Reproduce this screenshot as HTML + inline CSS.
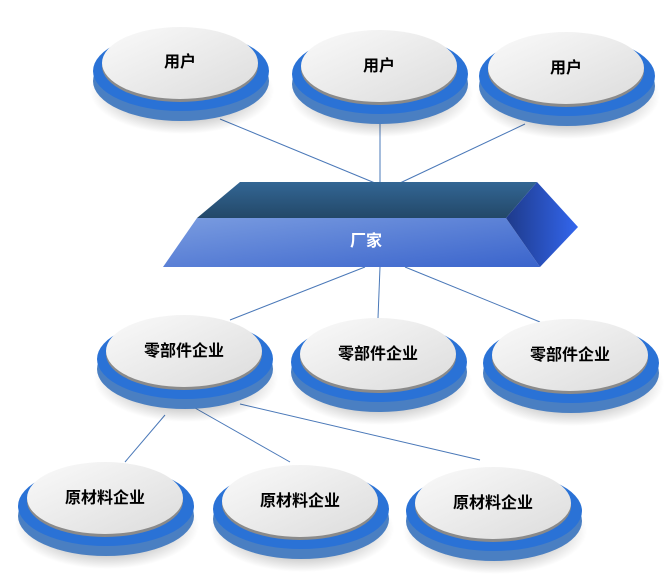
<!DOCTYPE html>
<html><head><meta charset="utf-8"><style>body{margin:0;background:#fff}svg{display:block}text{font-family:"Liberation Sans","Noto Sans CJK SC",sans-serif;font-weight:bold}</style></head><body>
<svg width="671" height="578" viewBox="0 0 671 578">
<defs>
<linearGradient id="top" x1="0" y1="0" x2="1" y2="1"><stop offset="0" stop-color="#fafafa"/><stop offset="1" stop-color="#dcdcdc"/></linearGradient>
<linearGradient id="fr" x1="0" y1="0" x2="1" y2="1"><stop offset="0" stop-color="#7a9ce0"/><stop offset="1" stop-color="#3a64cc"/></linearGradient>
<linearGradient id="tf" x1="0" y1="0" x2="0" y2="1"><stop offset="0" stop-color="#336694"/><stop offset="1" stop-color="#234868"/></linearGradient>
<linearGradient id="rf" x1="0" y1="0" x2="1" y2="0"><stop offset="0" stop-color="#1e3a8a"/><stop offset="1" stop-color="#3366ee"/></linearGradient>
<radialGradient id="sh"><stop offset="0.7" stop-color="#000" stop-opacity="0.18"/><stop offset="1" stop-color="#000" stop-opacity="0"/></radialGradient>
<g id="disk">
<ellipse cx="2" cy="28" rx="92" ry="43" fill="url(#sh)"/>
<ellipse cx="1" cy="18" rx="88" ry="40" fill="#4a7fc2"/>
<ellipse cx="1" cy="8" rx="88" ry="40" fill="#2a72d6"/>
<ellipse cx="0" cy="3" rx="78" ry="36" fill="#8a8a8a"/>
<ellipse cx="0" cy="0" rx="78" ry="36" fill="url(#top)"/>
</g>
</defs>
<g stroke="#4a78b8" stroke-width="1">
<line x1="220" y1="119" x2="375" y2="183"/><line x1="380" y1="124" x2="380" y2="183"/><line x1="525" y1="124" x2="400" y2="183"/>
<line x1="365" y1="267" x2="230" y2="320"/><line x1="380" y1="267" x2="378" y2="318"/><line x1="405" y1="267" x2="540" y2="322"/>
<line x1="165" y1="415" x2="125" y2="462"/><line x1="195" y1="408" x2="290" y2="462"/><line x1="240" y1="404" x2="480" y2="460"/>
</g>
<use href="#disk" x="180" y="63"/><use href="#disk" x="379" y="66"/><use href="#disk" x="566" y="68"/>
<use href="#disk" x="184" y="351"/><use href="#disk" x="378" y="354"/><use href="#disk" x="570" y="355"/>
<use href="#disk" x="105" y="498"/><use href="#disk" x="300" y="501"/><use href="#disk" x="493" y="503"/>
<polygon points="240,182 537,182 506,218 197,218" fill="url(#tf)"/>
<polygon points="197,218 506,218 540,267 163,267" fill="url(#fr)"/>
<polygon points="506,218 537,182 578,227 540,267" fill="url(#rf)"/>
<text x="366" y="246" fill="#fff" font-size="16" text-anchor="middle">厂家</text>
<g font-size="16" fill="#000" text-anchor="middle">
<text x="180" y="67">用户</text><text x="379" y="71">用户</text><text x="566" y="73">用户</text>
<text x="184" y="356">零部件企业</text><text x="378" y="359">零部件企业</text><text x="570" y="360">零部件企业</text>
<text x="105" y="503">原材料企业</text><text x="300" y="506">原材料企业</text><text x="493" y="508">原材料企业</text>
</g>
</svg>
</body></html>
